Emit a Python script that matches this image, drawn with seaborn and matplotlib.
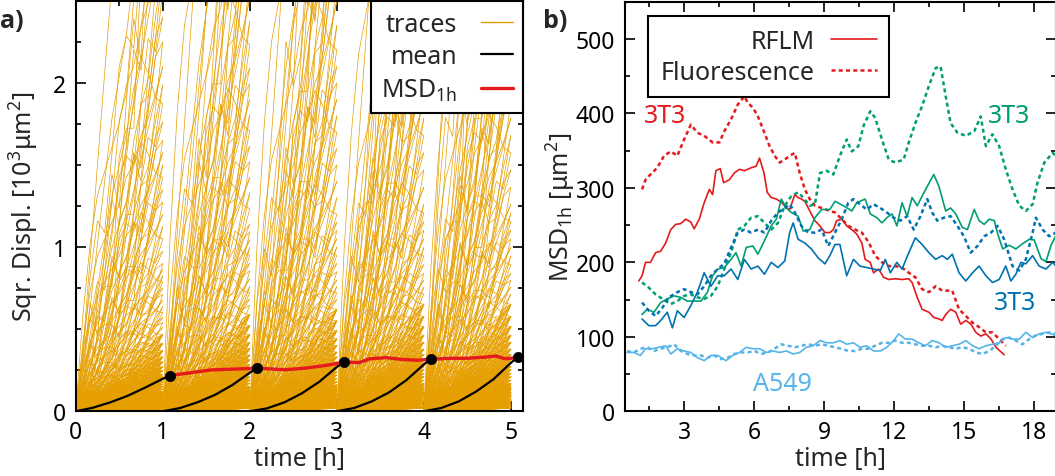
import numpy as np
import pandas as pd
import matplotlib
matplotlib.use("Agg")
import matplotlib.pyplot as plt
from matplotlib.lines import Line2D
from matplotlib.ticker import MultipleLocator
import seaborn as sns

sns.set_theme(style="ticks")
plt.rcParams["font.family"] = ["Noto Sans", "DejaVu Sans"]
plt.rcParams["mathtext.fontset"] = "custom"
plt.rcParams["mathtext.rm"] = "Noto Sans"
plt.rcParams["mathtext.it"] = "Noto Sans:italic"
plt.rcParams["mathtext.bf"] = "Noto Sans:bold"
FS = 18      # labels, legends, annotations
TFS = 16.5   # tick labels

# ---------------- panel a data ----------------
window_starts = [0, 1, 2, 3, 4]
trace_t = [0.0, 0.083, 0.167, 0.25, 0.333, 0.417, 0.5, 0.583, 0.667, 0.75, 0.833, 0.917, 1.0]
trace_profiles = [
    [0, 0.06, 0.13, 0.21, 0.29, 0.38, 0.47, 0.55, 0.64, 0.73, 0.82, 0.91, 1.0],
    [0, 0.12, 0.18, 0.15, 0.27, 0.41, 0.36, 0.52, 0.70, 0.66, 0.81, 0.96, 1.0],
    [0, 0.02, 0.05, 0.09, 0.16, 0.24, 0.33, 0.45, 0.55, 0.68, 0.77, 0.90, 1.0],
    [0, 0.09, 0.22, 0.31, 0.29, 0.42, 0.56, 0.61, 0.59, 0.74, 0.89, 0.86, 1.0],
    [0, 0.04, 0.10, 0.17, 0.23, 0.31, 0.43, 0.47, 0.61, 0.69, 0.75, 0.89, 1.0],
    [0, 0.20, 0.35, 0.45, 0.50, 0.55, 0.60, 0.68, 0.72, 0.80, 0.85, 0.92, 1.0],
    [0, 0.01, 0.03, 0.05, 0.08, 0.12, 0.18, 0.27, 0.38, 0.50, 0.65, 0.82, 1.0],
    [0, 0.05, 0.05, 0.20, 0.22, 0.22, 0.45, 0.50, 0.50, 0.78, 0.80, 0.95, 1.0],
    [0, 0.10, 0.25, 0.40, 0.55, 0.70, 0.80, 0.90, 1.05, 1.15, 1.10, 1.02, 1.0],
    [0, 0.07, 0.16, 0.11, 0.24, 0.35, 0.30, 0.46, 0.58, 0.52, 0.71, 0.84, 1.0],
]
# small displacements: drawn with every profile (dense orange floor)
trace_end_low = [0.02, 0.03, 0.04, 0.05, 0.06, 0.07, 0.08, 0.09, 0.10, 0.11, 0.12, 0.13,
                 0.14, 0.15, 0.16, 0.18, 0.20, 0.22, 0.24, 0.26, 0.28, 0.30, 0.33, 0.36,
                 0.40, 0.44, 0.49, 0.55, 0.62]
# large displacements: each drawn with two profiles (sparse tail)
trace_end_high = [0.68, 0.72, 0.76, 0.80, 0.85, 0.90, 0.95, 1.00, 1.05,
                  1.10, 1.15, 1.20, 1.30, 1.40, 1.50, 1.60, 1.70, 1.80, 1.90, 2.00, 2.10,
                  2.20, 2.35, 2.50, 2.65, 2.80, 3.00, 3.20, 3.40, 3.60, 3.90, 4.20, 4.60,
                  5.00, 5.50]
window_scale = [0.75, 0.95, 1.0, 1.05, 1.05]

mean_t = [0.0, 0.2, 0.4, 0.6, 0.8, 1.0, 1.08]
mean_vals = [
    [0, 0.022, 0.055, 0.095, 0.145, 0.198, 0.218],
    [0, 0.020, 0.055, 0.100, 0.160, 0.235, 0.263],
    [0, 0.018, 0.055, 0.110, 0.180, 0.270, 0.300],
    [0, 0.020, 0.060, 0.115, 0.190, 0.285, 0.320],
    [0, 0.020, 0.060, 0.120, 0.195, 0.295, 0.330],
]
msd_t = [1.08, 1.31, 1.55, 1.86, 2.09, 2.4, 2.64, 2.87, 3.09, 3.26, 3.38, 3.57, 3.73,
         3.92, 4.08, 4.31, 4.5, 4.73, 4.83, 4.93, 5.09]
msd_v = [0.218, 0.234, 0.252, 0.258, 0.263, 0.253, 0.263, 0.279, 0.300, 0.297, 0.320,
         0.327, 0.317, 0.311, 0.317, 0.323, 0.323, 0.331, 0.337, 0.320, 0.327]
dot_t = [1.08, 2.08, 3.08, 4.08, 5.08]
dot_v = [0.218, 0.263, 0.300, 0.320, 0.330]

# ---------------- panel b data ----------------
red_rflm_t = [1.06,1.2,1.35,1.56,1.78,2.0,2.21,2.43,2.64,2.86,3.07,3.29,3.43,3.65,3.86,4.08,4.22,4.36,4.55,4.69,4.94,5.15,5.37,5.58,5.87,6.08,6.23,6.42,6.56,6.73,6.95,7.16,7.38,7.52,7.74,7.88,8.02,8.17,8.38,8.6,8.81,9.03,9.24,9.39,9.53,9.75,9.96,10.18,10.39,10.61,10.75,10.97,11.11,11.33,11.54,11.76,12.04,12.33,12.62,12.76,12.98,13.19,13.48,13.69,13.91,14.05,14.2,14.41,14.63,14.84,15.06,15.28,15.49,15.7,15.92,16.14,16.35,16.7]
red_rflm_v = [175,182,200,200,213,215,226,244,251,252,258,254,245,258,280,298,291,323,326,307,311,320,325,323,327,329,340,320,294,287,285,281,273,271,291,287,285,282,269,256,249,240,240,244,256,258,249,244,238,226,204,200,186,191,180,177,178,177,178,173,153,137,133,126,124,122,130,137,133,117,122,117,106,101,104,97,86,76]

red_fluo_t = [1.2,1.35,1.56,1.85,2.14,2.43,2.71,3.0,3.29,3.57,3.86,4.22,4.51,4.72,5.01,5.3,5.58,5.73,5.94,6.16,6.44,6.66,6.88,7.09,7.31,7.52,7.74,7.95,8.17,8.38,8.6,8.89,9.24,9.46,9.75,10.03,10.32,10.61,10.9,11.18,11.47,11.76,12.04,12.33,12.62,12.9,13.19,13.48,13.77,14.05,14.48,14.77,15.06,15.35,15.63,15.92,16.2,16.49,16.77]
red_fluo_v = [298,311,318,327,343,349,343,365,385,374,370,361,361,376,392,412,423,414,408,396,374,356,343,334,338,343,347,320,298,285,276,273,269,267,258,249,244,240,227,209,200,195,195,193,186,180,164,160,168,162,162,137,128,119,113,106,106,97,88]

green_rflm_t = [1.2,1.42,1.71,2.0,2.28,2.57,2.86,3.14,3.43,3.72,4.0,4.22,4.44,4.72,5.01,5.22,5.44,5.66,5.94,6.16,6.44,6.73,6.95,7.16,7.38,7.59,7.88,8.1,8.38,8.6,8.89,9.24,9.46,9.82,10.18,10.39,10.75,10.97,11.25,11.47,11.68,11.9,12.11,12.33,12.55,12.76,12.98,13.19,13.41,13.69,13.91,14.2,14.41,14.63,14.91,15.13,15.42,15.63,15.85,16.06,16.28,16.42,16.64,16.92,17.2,17.49,17.78,17.99,18.28,18.49,18.71,18.9]
green_rflm_v = [130,137,133,146,151,155,153,148,148,148,160,182,191,193,204,213,195,220,222,211,229,249,258,285,273,267,262,242,244,260,271,271,282,276,269,280,285,265,260,253,260,265,249,280,262,287,276,289,302,318,302,269,273,265,247,244,271,256,251,258,256,239,218,223,218,225,231,230,205,201,223,235]

green_fluo_t = [1.2,1.49,1.78,2.07,2.43,2.71,3.0,3.29,3.57,3.86,4.15,4.44,4.72,5.01,5.3,5.58,5.87,6.16,6.44,6.73,7.02,7.31,7.59,7.88,8.1,8.38,8.6,8.82,9.1,9.39,9.67,9.96,10.18,10.46,10.68,10.97,11.18,11.47,11.76,12.04,12.4,12.62,12.9,13.19,13.48,13.77,13.98,14.2,14.41,14.7,15.06,15.42,15.7,15.92,16.2,16.49,16.77,17.06,17.35,17.63,17.92,18.13,18.42,18.78,18.92]
green_fluo_v = [173,166,157,151,144,148,155,157,153,151,155,168,191,213,244,249,260,262,253,244,253,276,289,294,287,276,278,320,323,318,343,365,349,356,383,403,394,365,338,334,338,361,387,410,437,461,463,423,387,374,370,376,396,356,372,356,325,298,276,269,278,307,334,347,343]

blue_rflm_t = [1.2,1.49,1.78,2.0,2.28,2.5,2.71,3.0,3.29,3.57,3.86,4.15,4.44,4.72,5.01,5.3,5.58,5.87,6.16,6.44,6.73,7.02,7.31,7.52,7.67,7.88,8.17,8.45,8.74,9.03,9.24,9.46,9.67,9.96,10.25,10.53,10.82,11.11,11.4,11.61,11.83,12.11,12.33,12.62,12.9,13.19,13.48,13.77,14.05,14.27,14.48,14.77,15.06,15.35,15.63,15.92,16.2,16.49,16.77,16.99,17.2,17.42,17.63,17.92,18.2,18.49,18.78,18.92]
blue_rflm_v = [124,115,115,122,133,112,135,126,142,160,186,168,182,182,191,177,204,191,195,184,200,193,202,240,253,231,226,218,206,198,209,224,224,182,204,195,193,191,189,204,186,200,191,213,233,224,213,204,209,204,211,186,175,186,195,182,173,177,195,175,184,200,198,209,195,191,200,195]

blue_fluo_t = [1.2,1.49,1.78,2.07,2.35,2.71,3.0,3.29,3.57,3.86,4.15,4.44,4.72,5.01,5.3,5.58,5.87,6.16,6.44,6.73,7.02,7.31,7.52,7.74,8.02,8.31,8.6,8.89,9.17,9.46,9.75,10.03,10.25,10.53,10.82,11.11,11.4,11.68,11.97,12.26,12.55,12.83,13.12,13.41,13.62,13.84,14.12,14.41,14.7,14.98,15.27,15.56,15.85,16.14,16.42,16.7,17.06,17.35,17.63,17.92,18.06,18.35,18.63,18.92]
blue_fluo_v = [146,135,128,139,153,160,164,160,157,168,182,191,198,220,240,244,240,244,240,256,267,273,278,267,249,240,240,244,222,240,258,280,285,278,271,278,273,267,260,256,262,244,262,285,267,256,260,262,249,235,213,222,235,240,249,231,195,189,204,240,260,244,235,240]

a549_rflm_t = [0.56,0.85,1.13,1.35,1.64,1.92,2.21,2.43,2.71,3.0,3.29,3.57,3.86,4.15,4.44,4.79,5.08,5.37,5.66,5.94,6.23,6.52,6.8,7.09,7.38,7.67,7.95,8.24,8.53,8.82,9.1,9.39,9.67,9.96,10.25,10.53,10.82,11.11,11.4,11.68,11.97,12.19,12.47,12.76,13.05,13.33,13.62,13.91,14.2,14.48,14.77,15.06,15.35,15.63,15.92,16.2,16.49,16.77,17.06,17.35,17.63,17.92,18.2,18.49,18.92]
a549_rflm_v = [79,79,75,84,84,86,88,77,84,81,79,72,68,75,75,68,75,79,86,84,84,79,81,79,81,77,79,86,88,95,92,92,95,90,92,86,88,81,81,86,95,104,97,97,92,88,95,92,86,88,90,95,88,84,88,90,92,99,97,97,106,99,104,106,102]

a549_fluo_t = [0.56,0.85,1.13,1.42,1.71,1.99,2.28,2.57,2.86,3.14,3.43,3.72,4.0,4.29,4.58,4.87,5.15,5.44,5.73,6.01,6.3,6.59,6.87,7.16,7.45,7.74,8.02,8.31,8.6,8.89,9.17,9.46,9.75,10.03,10.32,10.61,10.89,11.18,11.47,11.76,12.04,12.33,12.62,12.9,13.19,13.48,13.77,14.05,14.34,14.63,14.91,15.2,15.49,15.78,16.06,16.35,16.63,16.92,17.2,17.49,17.78,18.06,18.35,18.63,18.92]
a549_fluo_v = [81,79,84,86,81,84,86,90,81,77,75,75,72,75,70,72,77,79,79,81,77,79,84,90,88,86,88,90,88,90,88,86,84,81,81,84,84,88,92,92,95,92,92,90,88,88,86,88,86,84,86,84,79,77,81,88,97,99,95,90,97,102,104,106,104]

ORANGE = "#E69F00"
RED = "#E41A1C"
GREEN = "#009E73"
BLUE = "#0072B2"
LBLUE = "#56B4E9"
DOT = (0, (1.6, 1.3))

# ---------------- figure ----------------
fig = plt.figure(figsize=(10.55, 4.77), dpi=100)
axa = fig.add_axes([75.7 / 1055, 1 - 412.3 / 477, (523 - 75.7) / 1055, (412.3 - 2) / 477])
axb = fig.add_axes([625 / 1055, 1 - 412.3 / 477, (1055.5 - 625) / 1055, (412.3 - 2.7) / 477])

# traces as long table
rows = []
uid = 0
n_prof = len(trace_profiles)
for w, (start, sc) in enumerate(zip(window_starts, window_scale)):
    pairs = [(e, p) for e in trace_end_low for p in range(n_prof)]
    pairs += [(e, (i + w) % n_prof) for i, e in enumerate(trace_end_high)]
    pairs += [(e, (i + w + 5) % n_prof) for i, e in enumerate(trace_end_high)]
    for e, pi in pairs:
        for tt, p in zip(trace_t, trace_profiles[pi]):
            rows.append((start + tt, p * e * sc, uid))
        uid += 1
traces = pd.DataFrame(rows, columns=["t", "v", "unit"])
sns.lineplot(data=traces, x="t", y="v", units="unit", estimator=None, sort=False,
             color=ORANGE, lw=0.5, legend=False, ax=axa, zorder=1)

for start, mv in zip(window_starts, mean_vals):
    sns.lineplot(x=[start + t for t in mean_t], y=mv, color="black", lw=1.6,
                 ax=axa, zorder=3)
sns.lineplot(x=msd_t, y=msd_v, color=RED, lw=2.4, ax=axa, zorder=4)
sns.scatterplot(x=dot_t, y=dot_v, color="black", s=55, ax=axa, zorder=5,
                edgecolor="black", linewidth=0.5)

axa.set_xlim(0, 5.14)
axa.set_ylim(0, 2.5)
axa.xaxis.set_major_locator(MultipleLocator(1))
axa.xaxis.set_minor_locator(MultipleLocator(0.5))
axa.yaxis.set_major_locator(MultipleLocator(1))
axa.yaxis.set_minor_locator(MultipleLocator(0.25))
axa.set_xlabel("time [h]", fontsize=FS)
axa.set_ylabel(r"Sqr. Displ. [10$^{3}$μm$^{2}$]", fontsize=FS)

handles_a = [Line2D([], [], color=ORANGE, lw=1.0),
             Line2D([], [], color="black", lw=1.6),
             Line2D([], [], color=RED, lw=2.4)]
leg = axa.legend(handles_a, ["traces", "mean", r"MSD$_{\mathrm{1h}}$"], loc="upper right",
                 borderaxespad=0, markerfirst=False, alignment="right", fontsize=FS,
                 fancybox=False, framealpha=1, edgecolor="black", handlelength=1.25,
                 handletextpad=0.95, labelspacing=0.3, borderpad=0.42)
leg.get_frame().set_linewidth(1.5)

# panel b lines
series = [
    (red_rflm_t, red_rflm_v, RED, "-", 1.2),
    (red_fluo_t, red_fluo_v, RED, DOT, 1.8),
    (green_rflm_t, green_rflm_v, GREEN, "-", 1.2),
    (green_fluo_t, green_fluo_v, GREEN, DOT, 1.8),
    (blue_rflm_t, blue_rflm_v, BLUE, "-", 1.2),
    (blue_fluo_t, blue_fluo_v, BLUE, DOT, 1.8),
    (a549_rflm_t, a549_rflm_v, LBLUE, "-", 1.2),
    (a549_fluo_t, a549_fluo_v, LBLUE, DOT, 1.8),
]
for t, v, c, ls, lw in series:
    sns.lineplot(x=t, y=v, color=c, linestyle=ls, lw=lw, ax=axb)

axb.set_xlim(0.47, 18.9)
axb.set_ylim(0, 550)
axb.xaxis.set_major_locator(MultipleLocator(3))
axb.xaxis.set_minor_locator(MultipleLocator(1.5))
axb.yaxis.set_major_locator(MultipleLocator(100))
axb.yaxis.set_minor_locator(MultipleLocator(50))
axb.set_xlabel("time [h]", fontsize=FS)
axb.set_ylabel(r"MSD$_{\mathrm{1h}}$ [μm$^{2}$]", fontsize=FS)

axb.text(2.17, 397, "3T3", color=RED, fontsize=FS, ha="center", va="center")
axb.text(16.9, 397, "3T3", color=GREEN, fontsize=FS, ha="center", va="center")
axb.text(17.17, 146, "3T3", color=BLUE, fontsize=FS, ha="center", va="center")
axb.text(7.22, 37, "A549", color=LBLUE, fontsize=FS, ha="center", va="center")

handles_b = [Line2D([], [], color=RED, lw=1.2),
             Line2D([], [], color=RED, lw=1.8, linestyle=DOT)]
legb = axb.legend(handles_b, ["RFLM", "Fluorescence"], loc="upper left",
                  bbox_to_anchor=(0.0535, 0.965), borderaxespad=0, markerfirst=False,
                  alignment="right", fontsize=FS, fancybox=False, framealpha=1,
                  edgecolor="black", handlelength=1.85, handletextpad=0.65,
                  labelspacing=0.25, borderpad=0.5)
legb.get_frame().set_linewidth(1.5)

for ax in (axa, axb):
    ax.tick_params(which="both", direction="in", top=True, right=True,
                   labelsize=TFS, width=1.2, colors="black")
    ax.tick_params(axis="x", pad=6)
    ax.tick_params(axis="y", pad=7)
    ax.tick_params(which="major", length=7)
    ax.tick_params(which="minor", length=3.5)
    for s in ax.spines.values():
        s.set_linewidth(1.5)
        s.set_color("black")
    ax.xaxis.label.set_va("center")
    ax.yaxis.label.set_va("center")

axa.xaxis.set_label_coords(0.5, (412.3 - 460) / 410.3)
axa.yaxis.set_label_coords((24 - 75.7) / 447.3, 0.5)
axb.xaxis.set_label_coords(0.5, (412.3 - 460) / 409.6)
axb.yaxis.set_label_coords((561 - 625) / 430.5, 0.5)

fig.text(0.0, 1 - 21 / 477, "a)", fontsize=FS, fontweight="bold",
         family=["Open Sans", "DejaVu Sans"], ha="left", va="center")
fig.text(543 / 1055, 1 - 21 / 477, "b)", fontsize=FS, fontweight="bold",
         family=["Open Sans", "DejaVu Sans"], ha="left", va="center")

fig.savefig("out.png", dpi=100)
